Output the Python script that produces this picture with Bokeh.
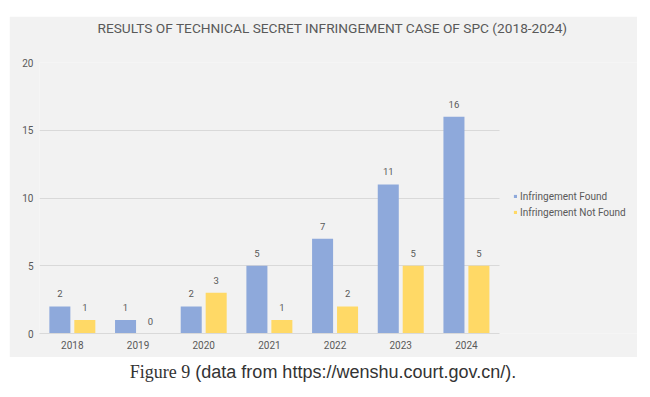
import numpy as np
from bokeh.plotting import figure
from bokeh.models import (ColumnDataSource, Range1d, Legend, LegendItem, Title, Div, LabelSet,
                          FixedTicker)
from bokeh.layouts import column
from bokeh.transform import dodge
from bokeh.core.properties import value
from bokeh.embed import file_html
from bokeh.resources import INLINE

years = ["2018", "2019", "2020", "2021", "2022", "2023", "2024"]
found = [2, 1, 2, 5, 7, 11, 16]
not_found = [1, 0, 3, 1, 2, 5, 5]
y_ticks = [0, 5, 10, 15, 20]
series_names = ["Infringement Found", "Infringement Not Found"]

BLUE = "#8EA9DB"
YELLOW = "#FFD966"
GRAY_TXT = "#595959"
BG = "#F2F2F2"

n = len(years)
xc = (np.arange(n) + 0.5).tolist()
src = ColumnDataSource(dict(
    xc=xc, years=years, found=found, not_found=not_found,
    found_lbl=[str(v) for v in found], not_found_lbl=[str(v) for v in not_found],
))

# plot frame spans the chart and the legend area; categories occupy the left part
x_end = n * 597 / 459
p = figure(x_range=Range1d(0, x_end), y_range=Range1d(0, 20), width=628, height=341,
           output_backend="svg", toolbar_location=None,
           background_fill_color=BG, border_fill_color=BG,
           min_border_left=30, min_border_right=0, min_border_top=46, min_border_bottom=24)
p.outline_line_color = None

# trailing empty line lifts the title towards the top of the panel
t = Title(text="RESULTS OF TECHNICAL SECRET INFRINGEMENT CASE OF SPC (2018-2024)\n ",
          align="left", vertical_align="top", text_font="Roboto", text_font_size="13.7px",
          text_line_height=1.55,
          text_color=GRAY_TXT, text_font_style="normal", offset=58, standoff=0)
p.add_layout(t, "above")

off = 0.19
w = 0.32
r1 = p.vbar(x=dodge("xc", -off), top="found", width=w, source=src,
            fill_color=BLUE, line_color=None)
r2 = p.vbar(x=dodge("xc", off), top="not_found", width=w, source=src,
            fill_color=YELLOW, line_color=None)

for col, o in (("found", -off), ("not_found", off)):
    p.add_layout(LabelSet(x=dodge("xc", o), y=col, text=col + "_lbl",
                          source=src, y_offset=9, text_align="center", text_baseline="bottom",
                          text_font=value("Roboto"), text_font_size=value("9.5px"),
                          text_color=GRAY_TXT))

p.yaxis.ticker = FixedTicker(ticks=y_ticks)
p.yaxis.axis_line_color = None
p.yaxis.major_tick_line_color = None
p.yaxis.minor_tick_line_color = None
p.yaxis.major_label_text_color = GRAY_TXT
p.yaxis.major_label_text_font = "Roboto"
p.yaxis.major_label_text_font_size = "10px"
p.yaxis.major_label_standoff = 0

p.xaxis.ticker = FixedTicker(ticks=xc)
p.xaxis.major_label_overrides = {x: y for x, y in zip(xc, years)}
p.xaxis.bounds = (0, n)
p.xaxis.axis_line_color = "#D9D9D9"
p.xaxis.major_tick_line_color = None
p.xaxis.minor_tick_line_color = None
p.xaxis.major_label_text_color = GRAY_TXT
p.xaxis.major_label_text_font = "Roboto"
p.xaxis.major_label_text_font_size = "10px"
p.xaxis.major_label_standoff = 1

p.xgrid.grid_line_color = None
p.ygrid.grid_line_color = "#D9D9D9"
p.ygrid.grid_line_width = 1
p.ygrid.cross_bounds = (0, n)

legend = Legend(items=[LegendItem(label=series_names[0], renderers=[r1]),
                       LegendItem(label=series_names[1], renderers=[r2])],
                location=(474, 115), background_fill_alpha=0, border_line_color=None,
                glyph_width=4, glyph_height=4, label_text_font="Roboto",
                label_text_font_size="10px", label_text_color=GRAY_TXT,
                label_standoff=3, spacing=4, padding=0, margin=0, label_height=12)
p.add_layout(legend, "center")

caption = Div(text='<div style="text-align:center;width:628px;font-size:18px;color:#333;padding-top:3px;">'
                   '<span style="font-family:\'Liberation Serif\';">Figure 9</span>'
                   '<span style="font-family:\'Liberation Sans\';"> (data from https://wenshu.court.gov.cn/).</span></div>',
              width=628, height=34)

p.margin = (16, 0, 0, 9)
caption.margin = (0, 0, 0, 9)
layout = column(p, caption)
open("out.html", "w").write(file_html(layout, INLINE))
